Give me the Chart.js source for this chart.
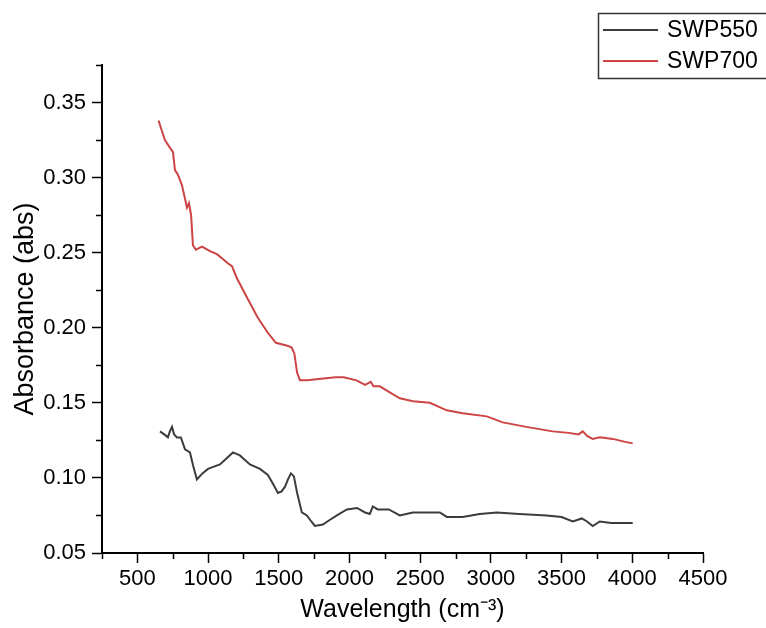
<!DOCTYPE html>
<html>
<head>
<meta charset="utf-8">
<script src="https://cdn.jsdelivr.net/npm/chart.js@4"></script>
<style>
  html, body { margin: 0; padding: 0; background: #fff; }
  #wrap { width: 766px; height: 628px; }
</style>
</head>
<body>
<div id="wrap"><canvas id="myChart" width="766" height="628"></canvas></div>
<script>
// tick values
const xTicks = [500, 1000, 1500, 2000, 2500, 3000, 3500, 4000, 4500];
const xMinorTicks = [250, 750, 1250, 1750, 2250, 2750, 3250, 3750, 4250];
const yTicks = [0.05, 0.10, 0.15, 0.20, 0.25, 0.30, 0.35];
const yMinorTicks = [0.075, 0.125, 0.175, 0.225, 0.275, 0.325, 0.375];

// SWP550 (black)
const swp550Wave = [660, 690, 716, 730, 745, 760, 780, 808, 837, 872, 895, 921, 960, 1000, 1027, 1084, 1130, 1176, 1225, 1296,
  1367, 1423, 1460, 1494, 1520, 1543, 1570, 1586, 1607, 1630, 1663, 1699, 1730, 1755, 1812, 1860, 1911, 1982, 2053, 2110,
  2144, 2165, 2200, 2278, 2356, 2448, 2550, 2639, 2688, 2800, 2921, 3042, 3200, 3395, 3500, 3579, 3643, 3680, 3720, 3770,
  3850, 4003];
const swp550Abs = [0.131, 0.129, 0.127, 0.131, 0.134, 0.129, 0.127, 0.127, 0.119, 0.117, 0.108, 0.099, 0.103, 0.106, 0.107, 0.109, 0.113, 0.117, 0.115, 0.109,
  0.106, 0.102, 0.096, 0.090, 0.091, 0.094, 0.100, 0.103, 0.101, 0.090, 0.077, 0.075, 0.071, 0.068, 0.069, 0.072, 0.075, 0.079, 0.080, 0.077,
  0.076, 0.081, 0.079, 0.079, 0.075, 0.077, 0.077, 0.077, 0.074, 0.074, 0.076, 0.077, 0.076, 0.075, 0.074, 0.071, 0.073, 0.071, 0.068, 0.071,
  0.070, 0.070];

// SWP700 (red)
const swp700Wave = [650, 660, 695, 730, 752, 766, 787, 815, 851, 865, 880, 893, 914, 957, 1013, 1063, 1140, 1169, 1204, 1282,
  1350, 1420, 1480, 1520, 1560, 1590, 1610, 1630, 1650, 1700, 1800, 1900, 1960, 2050, 2110, 2150, 2170, 2215, 2285, 2356,
  2450, 2568, 2688, 2800, 2971, 3084, 3250, 3437, 3550, 3620, 3650, 3680, 3720, 3770, 3862, 3950, 4003];
const swp700Abs = [0.338, 0.335, 0.325, 0.320, 0.317, 0.305, 0.302, 0.295, 0.280, 0.283, 0.275, 0.255, 0.252, 0.254, 0.251, 0.249, 0.243, 0.241, 0.233, 0.219,
  0.207, 0.197, 0.190, 0.189, 0.188, 0.187, 0.183, 0.170, 0.165, 0.165, 0.166, 0.167, 0.167, 0.165, 0.162, 0.164, 0.161, 0.161, 0.157, 0.153,
  0.151, 0.150, 0.145, 0.143, 0.141, 0.137, 0.134, 0.131, 0.130, 0.129, 0.131, 0.128, 0.126, 0.127, 0.126, 0.124, 0.123];

const FONT = "'Liberation Sans', Arial, sans-serif";

function toPoints(xs, ys) {
  return xs.map((x, i) => ({ x: x, y: ys[i] }));
}

// short minor ticks, placed through the scales
const minorTicks = {
  id: "minorTicks",
  afterDraw(chart) {
    const ctx = chart.ctx;
    const xs = chart.scales.x;
    const ys = chart.scales.y;
    const area = chart.chartArea;
    ctx.save();
    ctx.strokeStyle = "#000";
    ctx.lineWidth = 1.5;
    ctx.beginPath();
    xMinorTicks.forEach((v) => {
      const px = Math.round(xs.getPixelForValue(v)) + 0.5;
      ctx.moveTo(px, area.bottom);
      ctx.lineTo(px, area.bottom + 6);
    });
    yMinorTicks.forEach((v) => {
      const py = Math.round(ys.getPixelForValue(v)) + 0.5;
      ctx.moveTo(area.left, py);
      ctx.lineTo(area.left - 6, py);
    });
    ctx.stroke();
    ctx.restore();
  },
};

// boxed legend in the top right corner
const boxLegend = {
  id: "boxLegend",
  afterDraw(chart) {
    const ctx = chart.ctx;
    ctx.save();
    ctx.strokeStyle = "#333";
    ctx.lineWidth = 1.5;
    ctx.strokeRect(598.5, 13.5, 180, 65);
    ctx.font = "23px " + FONT;
    ctx.textBaseline = "middle";
    ctx.fillStyle = "#000";
    const rows = [30, 61];
    chart.data.datasets.forEach((ds, i) => {
      ctx.strokeStyle = ds.borderColor;
      ctx.lineWidth = 2;
      ctx.beginPath();
      ctx.moveTo(603, rows[i]);
      ctx.lineTo(658, rows[i]);
      ctx.stroke();
      ctx.fillText(ds.label, 667, rows[i] + 1);
    });
    ctx.restore();
  },
};

const ctx = document.getElementById("myChart").getContext("2d");
new Chart(ctx, {
  type: "line",
  data: {
    datasets: [
      {
        label: "SWP550",
        data: toPoints(swp550Wave, swp550Abs),
        borderColor: "#3c3c3c",
        borderWidth: 2,
        pointRadius: 0,
        tension: 0,
      },
      {
        label: "SWP700",
        data: toPoints(swp700Wave, swp700Abs),
        borderColor: "#cc4444",
        borderWidth: 2,
        pointRadius: 0,
        tension: 0,
      },
    ],
  },
  options: {
    responsive: false,
    animation: false,
    layout: { padding: { top: 65, right: 63, left: 0, bottom: 0 } },
    plugins: { legend: { display: false }, tooltip: { enabled: false } },
    scales: {
      x: {
        type: "linear",
        min: 250,
        max: 4500,
        afterBuildTicks: (scale) => {
          scale.ticks = xTicks.map((v) => ({ value: v }));
        },
        afterFit: (scale) => { scale.height = 75; },
        ticks: {
          color: "#000",
          font: { family: FONT, size: 22 },
          padding: 3,
          maxRotation: 0,
          autoSkip: false,
          callback: (v) => String(v),
        },
        grid: {
          display: true,
          drawOnChartArea: false,
          drawTicks: true,
          tickLength: 10,
          tickWidth: 1.5,
          color: "#000",
        },
        border: { display: true, color: "#000", width: 2 },
        title: {
          display: true,
          text: "Wavelength (cm⁻³)",
          color: "#000",
          font: { family: FONT, size: 25 },
          padding: { top: 0, bottom: 3 },
        },
      },
      y: {
        type: "linear",
        min: 0.05,
        max: 0.375,
        afterBuildTicks: (scale) => {
          scale.ticks = yTicks.map((v) => ({ value: v }));
        },
        afterFit: (scale) => { scale.width = 102; },
        ticks: {
          color: "#000",
          font: { family: FONT, size: 22 },
          padding: 6,
          callback: (v) => v.toFixed(2),
        },
        grid: {
          display: true,
          drawOnChartArea: false,
          drawTicks: true,
          tickLength: 10,
          tickWidth: 1.5,
          color: "#000",
        },
        border: { display: true, color: "#000", width: 2 },
        title: {
          display: true,
          text: "Absorbance (abs)",
          color: "#000",
          font: { family: FONT, size: 27 },
          padding: { top: 9, bottom: 0 },
        },
      },
    },
  },
  plugins: [minorTicks, boxLegend],
});
</script>
</body>
</html>
